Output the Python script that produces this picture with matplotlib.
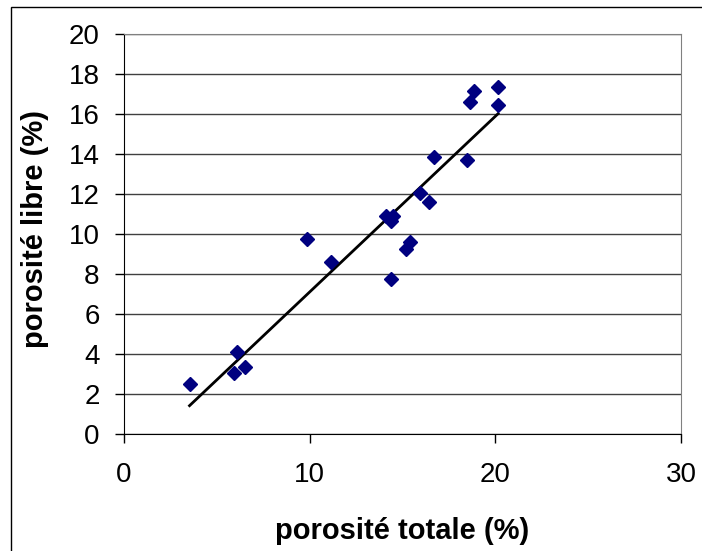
import numpy as np
import matplotlib.pyplot as plt
from matplotlib.patches import Rectangle

# porosité totale / porosité libre (%)
porosite_totale = [3.53, 5.94, 6.10, 6.54, 9.83, 11.15, 14.10, 14.48, 14.36, 14.38,
                   15.18, 15.38, 15.94, 16.44, 16.68, 18.49, 18.65, 18.85, 20.15, 20.15]
porosite_libre = [2.47, 3.03, 4.10, 3.32, 9.73, 8.57, 10.90, 10.87, 10.63, 7.72,
                  9.23, 9.60, 12.03, 11.58, 13.82, 13.67, 16.60, 17.15, 17.37, 16.43]

x_ticks = [0, 10, 20, 30]
y_ticks = list(range(0, 21, 2))

plt.rcParams['font.family'] = ['Liberation Sans', 'DejaVu Sans']

fig = plt.figure(figsize=(7.02, 5.51), dpi=100)
ax = fig.add_axes([124 / 702, 1 - 433.5 / 551, (681 - 124) / 702, (433.5 - 34) / 551])

x = np.array(porosite_totale)
y = np.array(porosite_libre)

# linear trendline over the data range
a, b = np.polyfit(x, y, 1)
xl = np.array([x.min(), x.max()])
ax.plot(xl, a * xl + b, color='black', lw=2, zorder=3)

ax.plot(x, y, 'D', color='#000080', ms=7.3, mec='#000080', zorder=4)

ax.set_xlim(0, 30)
ax.set_ylim(0, 20)
ax.set_xticks(x_ticks)
ax.set_yticks(y_ticks)
ax.yaxis.grid(True, color='#404040', lw=1)
ax.set_axisbelow(True)

for s in ['top', 'right']:
    ax.spines[s].set_color('#808080')
for s in ['left', 'bottom']:
    ax.spines[s].set_color('black')

ax.tick_params(axis='both', direction='out', length=6.5, width=1, labelsize=20)
ax.tick_params(axis='x', pad=14)
ax.tick_params(axis='y', pad=11)

ax.set_xlabel('porosité totale (%)', fontsize=21, fontweight='bold', va='center')
ax.set_ylabel('porosité libre (%)', fontsize=21, fontweight='bold', va='center')
ax.xaxis.set_label_coords(0.5, (433.5 - 531) / 399.5)
ax.yaxis.set_label_coords((35 - 124) / 557, (433.5 - 229) / 399.5)

# frame around the whole chart
fig.patches.append(Rectangle((11 / 702, -0.1), 1.2, 1 - 7 / 551 + 0.1,
                             transform=fig.transFigure, fill=False,
                             edgecolor='black', lw=1))

fig.savefig('out.png', dpi=100)
